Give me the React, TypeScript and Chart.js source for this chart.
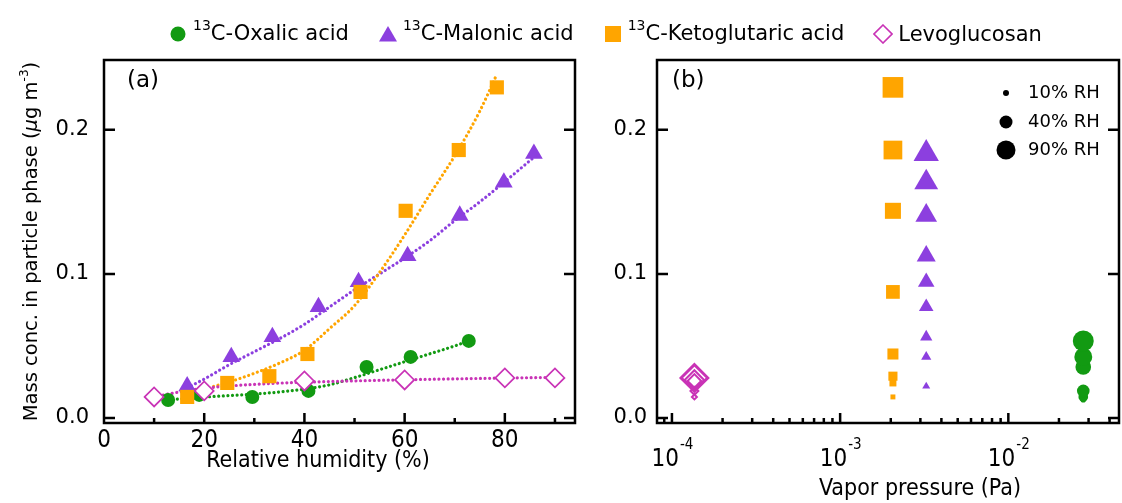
import React, { useEffect, useRef } from "react";
import { Chart, registerables } from "chart.js";

Chart.register(...registerables);

// ---------------- data ----------------
// Panel (a): mass concentration vs relative humidity
const rhOxalic = [12.8, 19.0, 29.6, 40.8, 52.4, 61.2, 72.8];
const concOxalic = [0.0125, 0.016, 0.0146, 0.0188, 0.0354, 0.0424, 0.0535];

const rhMalonic = [16.6, 25.4, 33.6, 42.8, 50.8, 60.6, 71.0, 79.8, 85.8];
const concMalonic = [0.022, 0.0424, 0.0563, 0.0771, 0.0944, 0.1125, 0.1405, 0.1635, 0.1835];

const rhKeto = [16.6, 24.6, 33.0, 40.6, 51.2, 60.2, 70.8, 78.4];
const concKeto = [0.0146, 0.0243, 0.029, 0.0444, 0.0875, 0.1438, 0.186, 0.2295];

const rhLevo = [10, 20, 40, 60, 80, 90];
const concLevo = [0.0146, 0.0188, 0.0257, 0.0264, 0.0278, 0.0278];

// dotted fit curves
const fitOxalicX = [12.8, 20, 25, 30, 35, 40, 45, 50, 55, 60, 65, 70, 72.8];
const fitOxalicY = [0.0125, 0.0145, 0.0155, 0.0166, 0.018, 0.02, 0.023, 0.028, 0.0335, 0.039, 0.0445, 0.05, 0.0535];

const fitMalonicX = [16.6, 20, 25, 30, 35, 40, 45, 50, 55, 60, 65, 70, 75, 80, 85.8];
const fitMalonicY = [0.021, 0.027, 0.037, 0.046, 0.055, 0.065, 0.077, 0.089, 0.1, 0.111, 0.123, 0.137, 0.15, 0.164, 0.181];

const fitKetoX = [16.6, 20, 25, 30, 35, 40, 45, 50, 55, 60, 65, 70, 75, 78.2];
const fitKetoY = [0.016, 0.02, 0.025, 0.031, 0.038, 0.047, 0.062, 0.078, 0.101, 0.127, 0.155, 0.182, 0.213, 0.237];

const fitLevoX = [10, 13, 17, 22, 28, 35, 45, 60, 78, 90];
const fitLevoY = [0.0146, 0.0167, 0.0192, 0.0213, 0.0229, 0.0242, 0.0253, 0.0265, 0.0276, 0.0282];

// Panel (b): vapor pressure (Pa) of each compound
const vpOxalic = 0.0279;
const vpMalonic = 0.00325;
const vpKeto = 0.00206;
const vpLevo = 0.000136;

// ticks and titles
const yTickValues = [0, 0.1, 0.2];
const rhTickLabels = [0, 20, 40, 60, 80];
const rhMinorTicks = [10, 30, 50, 70, 90];
const vpDecades = [-4, -3, -2];
const rhLegendLevels = [10, 40, 90];
const titleRH = "Relative humidity (%)";
const titleVP = "Vapor pressure (Pa)";

// ---------------- styles ----------------
const GREEN = "#129a12";
const PURPLE = "#8c3fdf";
const ORANGE = "#ffa500";
const MAGENTA = "#c933b6";
const SANS = "'DejaVu Sans', 'Noto Sans', sans-serif";
const NARROW = "'Liberation Sans Narrow', 'DejaVu Sans Condensed', 'Roboto Condensed', sans-serif";

const Y_MIN = -0.0035;
const Y_MAX = 0.2485;

const zip = (xs: number[], ys: number[]) => xs.map((x, i) => ({ x, y: ys[i] }));
const constX = (x: number, ys: number[]) => ys.map((y) => ({ x, y }));

function sizeFor(shape: string, rh: number): number {
  if (shape === "circle") return 1 + 0.13 * rh;
  if (shape === "rect") return 0.5 + 0.18 * rh;
  if (shape === "triangle") return 2.2 + 0.145 * rh;
  return 1.06 + 0.144 * rh;
}

function fitDataset(xs: number[], ys: number[], color: string) {
  return {
    data: zip(xs, ys),
    showLine: true,
    pointRadius: 0,
    borderColor: color,
    borderWidth: 3.2,
    borderDash: [0.01, 4.6],
    borderCapStyle: "round" as const,
    cubicInterpolationMode: "monotone" as const,
    fill: false,
  };
}

function drawFrame(chart: any, xMajor: number[], xMinor: number[]) {
  const { ctx, chartArea: a } = chart;
  const xs = chart.scales.x;
  const ys = chart.scales.y;
  ctx.save();
  ctx.strokeStyle = "#000";
  ctx.lineWidth = 2.5;
  ctx.beginPath();
  ctx.rect(a.left, a.top, a.right - a.left, a.bottom - a.top);
  for (const v of yTickValues) {
    const p = ys.getPixelForValue(v);
    ctx.moveTo(a.left, p);
    ctx.lineTo(a.left + 11, p);
    ctx.moveTo(a.right, p);
    ctx.lineTo(a.right - 11, p);
  }
  for (const v of xMajor) {
    const p = xs.getPixelForValue(v);
    if (p < a.left - 0.5 || p > a.right + 0.5) continue;
    ctx.moveTo(p, a.bottom);
    ctx.lineTo(p, a.bottom - 10);
  }
  for (const v of xMinor) {
    const p = xs.getPixelForValue(v);
    if (p < a.left - 0.5 || p > a.right + 0.5) continue;
    ctx.moveTo(p, a.bottom);
    ctx.lineTo(p, a.bottom - 5);
  }
  ctx.stroke();
  ctx.restore();
}

function drawPanelLabel(chart: any, text: string, dx: number) {
  const { ctx, chartArea: a } = chart;
  ctx.save();
  ctx.fillStyle = "#000";
  ctx.font = `23px ${SANS}`;
  ctx.textAlign = "left";
  ctx.textBaseline = "middle";
  ctx.fillText(text, a.left + dx, a.top + 21);
  ctx.restore();
}

function drawXTitle(chart: any, text: string, dx: number, cy: number) {
  const { ctx, chartArea: a } = chart;
  ctx.save();
  ctx.fillStyle = "#000";
  ctx.font = `23px ${NARROW}`;
  ctx.textAlign = "center";
  ctx.textBaseline = "middle";
  ctx.fillText(text, a.left + dx, cy);
  ctx.restore();
}

const decorA = {
  id: "decorA",
  afterDraw(chart: any) {
    drawFrame(chart, rhTickLabels, rhMinorTicks);
    drawPanelLabel(chart, "(a)", 23);
    drawXTitle(chart, titleRH, 214, 461);
    // rotated y-axis title with italic mu and superscript
    const { ctx, chartArea: a } = chart;
    const size = 19.5;
    const parts = [
      { t: "Mass conc. in particle phase (", f: `${size}px ${SANS}`, dy: 0 },
      { t: "\u03bc", f: `italic ${size}px ${SANS}`, dy: 0 },
      { t: "g m", f: `${size}px ${SANS}`, dy: 0 },
      { t: "-3", f: `${size * 0.62}px ${SANS}`, dy: -9 },
      { t: ")", f: `${size}px ${SANS}`, dy: 0 },
    ];
    ctx.save();
    let total = 0;
    const widths = parts.map((p) => {
      ctx.font = p.f;
      const w = ctx.measureText(p.t).width;
      total += w;
      return w;
    });
    ctx.translate(30, (a.top + a.bottom) / 2);
    ctx.rotate(-Math.PI / 2);
    ctx.fillStyle = "#000";
    ctx.textBaseline = "alphabetic";
    ctx.textAlign = "left";
    let x = -total / 2;
    parts.forEach((p, i) => {
      ctx.font = p.f;
      ctx.fillText(p.t, x, 7 + p.dy);
      x += widths[i];
    });
    ctx.restore();
  },
};

const decorB = {
  id: "decorB",
  afterDraw(chart: any) {
    const xs = chart.scales.x;
    const majors: number[] = [];
    const minors: number[] = [];
    for (let k = -5; k <= -1; k++) {
      majors.push(Math.pow(10, k));
      for (let m = 2; m <= 9; m++) minors.push(m * Math.pow(10, k));
    }
    drawFrame(chart, majors, minors);
    drawPanelLabel(chart, "(b)", 15);
    drawXTitle(chart, titleVP, 263, 489);
    const { ctx, chartArea: a } = chart;
    ctx.save();
    ctx.fillStyle = "#000";
    // log-axis tick labels 10^k
    for (const k of vpDecades) {
      const p = xs.getPixelForValue(Math.pow(10, k));
      ctx.font = `24px ${NARROW}`;
      const wBase = ctx.measureText("10").width;
      ctx.font = `15px ${NARROW}`;
      const sup = `${k}`;
      const wSup = ctx.measureText(sup).width;
      const x0 = p - (wBase + wSup) / 2;
      ctx.textAlign = "left";
      ctx.textBaseline = "alphabetic";
      ctx.font = `24px ${NARROW}`;
      ctx.fillText("10", x0, a.bottom + 43);
      ctx.font = `15px ${NARROW}`;
      ctx.fillText(sup, x0 + wBase + 1, a.bottom + 26);
    }
    // RH size legend
    const dotR = [3, 6.5, 9.5];
    const rowY = [33, 62, 90];
    rhLegendLevels.forEach((lvl, i) => {
      ctx.beginPath();
      ctx.arc(a.right - 113, a.top + rowY[i], dotR[i], 0, Math.PI * 2);
      ctx.fill();
      ctx.font = `18px ${SANS}`;
      ctx.textAlign = "left";
      ctx.textBaseline = "middle";
      ctx.fillText(`${lvl}% RH`, a.right - 91, a.top + rowY[i]);
    });
    ctx.restore();
  },
};

function yScale(width: number, pad: number) {
  return {
    type: "linear" as const,
    min: Y_MIN,
    max: Y_MAX,
    afterBuildTicks: (s: any) => {
      s.ticks = yTickValues.map((v) => ({ value: v }));
    },
    afterFit: (s: any) => {
      s.width = width;
    },
    grid: { display: false, drawTicks: false },
    border: { display: false },
    ticks: {
      color: "#000",
      font: { family: SANS, size: 21 },
      padding: pad,
      callback: (v: any) => Number(v).toFixed(1),
    },
  };
}

function buildA(canvas: HTMLCanvasElement) {
  return new Chart(canvas, {
    type: "scatter",
    data: {
      datasets: [
        {
          data: zip(rhLevo, concLevo),
          pointStyle: "rectRot",
          pointRadius: 9.5,
          backgroundColor: "#ffffff",
          borderColor: MAGENTA,
          borderWidth: 1.7,
        },
        {
          data: zip(rhKeto, concKeto),
          pointStyle: "rect",
          pointRadius: 10,
          backgroundColor: ORANGE,
          borderColor: ORANGE,
          borderWidth: 0,
        },
        {
          data: zip(rhMalonic, concMalonic),
          pointStyle: "triangle",
          pointRadius: 10.2,
          backgroundColor: PURPLE,
          borderColor: PURPLE,
          borderWidth: 0,
        },
        {
          data: zip(rhOxalic, concOxalic),
          pointStyle: "circle",
          pointRadius: 7,
          backgroundColor: GREEN,
          borderColor: GREEN,
          borderWidth: 0,
        },
        fitDataset(fitLevoX, fitLevoY, MAGENTA),
        fitDataset(fitKetoX, fitKetoY, ORANGE),
        fitDataset(fitMalonicX, fitMalonicY, PURPLE),
        fitDataset(fitOxalicX, fitOxalicY, GREEN),
      ] as any,
    },
    options: {
      animation: false,
      responsive: false,
      events: [],
      layout: { autoPadding: false, padding: { top: 60, right: 15, left: 0, bottom: 0 } },
      plugins: { legend: { display: false }, tooltip: { enabled: false } },
      scales: {
        x: {
          type: "linear",
          min: 0,
          max: 94,
          afterBuildTicks: (s: any) => {
            s.ticks = rhTickLabels.map((v) => ({ value: v }));
          },
          afterFit: (s: any) => {
            s.height = 80;
          },
          grid: { display: false, drawTicks: false },
          border: { display: false },
          ticks: { color: "#000", font: { family: NARROW, size: 24 }, padding: 3, maxRotation: 0, autoSkip: false },
        },
        y: yScale(104, 15),
      } as any,
    },
    plugins: [decorA],
  });
}

function buildB(canvas: HTMLCanvasElement) {
  const sized = (shape: string, rh: number[]) => (ctx: any) => sizeFor(shape, rh[ctx.dataIndex] ?? 10);
  return new Chart(canvas, {
    type: "scatter",
    data: {
      datasets: [
        {
          data: constX(vpLevo, concLevo),
          pointStyle: "rectRot",
          pointRadius: sized("rectRot", rhLevo),
          backgroundColor: "rgba(255,255,255,0)",
          borderColor: MAGENTA,
          borderWidth: 2,
        },
        {
          data: constX(vpKeto, concKeto),
          pointStyle: "rect",
          pointRadius: sized("rect", rhKeto),
          backgroundColor: ORANGE,
          borderColor: ORANGE,
          borderWidth: 0,
        },
        {
          data: constX(vpMalonic, concMalonic),
          pointStyle: "triangle",
          pointRadius: sized("triangle", rhMalonic),
          backgroundColor: PURPLE,
          borderColor: PURPLE,
          borderWidth: 0,
        },
        {
          data: constX(vpOxalic, concOxalic),
          pointStyle: "circle",
          pointRadius: sized("circle", rhOxalic),
          backgroundColor: GREEN,
          borderColor: GREEN,
          borderWidth: 0,
        },
      ] as any,
    },
    options: {
      animation: false,
      responsive: false,
      events: [],
      layout: { autoPadding: false, padding: { top: 60, right: 3, left: 0, bottom: 0 } },
      plugins: { legend: { display: false }, tooltip: { enabled: false } },
      scales: {
        x: {
          type: "logarithmic",
          min: 8.15e-5,
          max: 0.0455,
          afterFit: (s: any) => {
            s.height = 80;
          },
          grid: { display: false, drawTicks: false },
          border: { display: false },
          ticks: { display: false },
        },
        y: yScale(67, 10),
      } as any,
    },
    plugins: [decorB],
  });
}

const legendItems = [
  { sup: "13", label: "C-Oxalic acid", color: GREEN, shape: "circle" },
  { sup: "13", label: "C-Malonic acid", color: PURPLE, shape: "triangle" },
  { sup: "13", label: "C-Ketoglutaric acid", color: ORANGE, shape: "square" },
  { sup: "", label: "Levoglucosan", color: MAGENTA, shape: "diamond" },
];

function Marker({ shape, color }: { shape: string; color: string }) {
  return (
    <svg width={20} height={20} viewBox="0 0 20 20" style={{ display: "block" }}>
      {shape === "circle" && <circle cx={10} cy={10} r={7.5} fill={color} />}
      {shape === "triangle" && <polygon points="1,17.5 10,2 19,17.5" fill={color} />}
      {shape === "square" && <rect x={2} y={2} width={16} height={16} fill={color} />}
      {shape === "diamond" && (
        <polygon points="10,1 19,10 10,19 1,10" fill="#fff" stroke={color} strokeWidth={1.6} />
      )}
    </svg>
  );
}

function Legend() {
  return (
    <div
      style={{
        position: "absolute",
        left: 168,
        top: 22,
        height: 24,
        display: "flex",
        alignItems: "center",
        gap: 29,
        fontFamily: SANS,
        fontSize: 21,
        color: "#000",
        whiteSpace: "nowrap",
      }}
    >
      {legendItems.map((it, i) => (
        <div key={i} style={{ display: "flex", alignItems: "center", gap: 5 }}>
          <Marker shape={it.shape} color={it.color} />
          <span style={{ lineHeight: "24px" }}>
            {it.sup && <span style={{ fontSize: 14, position: "relative", top: -10 }}>{it.sup}</span>}
            {it.label}
          </span>
        </div>
      ))}
    </div>
  );
}

export default function App() {
  const refA = useRef<HTMLCanvasElement>(null);
  const refB = useRef<HTMLCanvasElement>(null);
  useEffect(() => {
    const a = buildA(refA.current!);
    const b = buildB(refB.current!);
    return () => {
      a.destroy();
      b.destroy();
    };
  }, []);
  return (
    <div style={{ position: "absolute", left: 0, top: 0, width: 1122, height: 503, background: "#fff", overflow: "hidden" }}>
      <canvas ref={refA} width={590} height={503} style={{ position: "absolute", left: 0, top: 0, width: 590, height: 503 }} />
      <canvas ref={refB} width={532} height={503} style={{ position: "absolute", left: 590, top: 0, width: 532, height: 503 }} />
      <Legend />
    </div>
  );
}
